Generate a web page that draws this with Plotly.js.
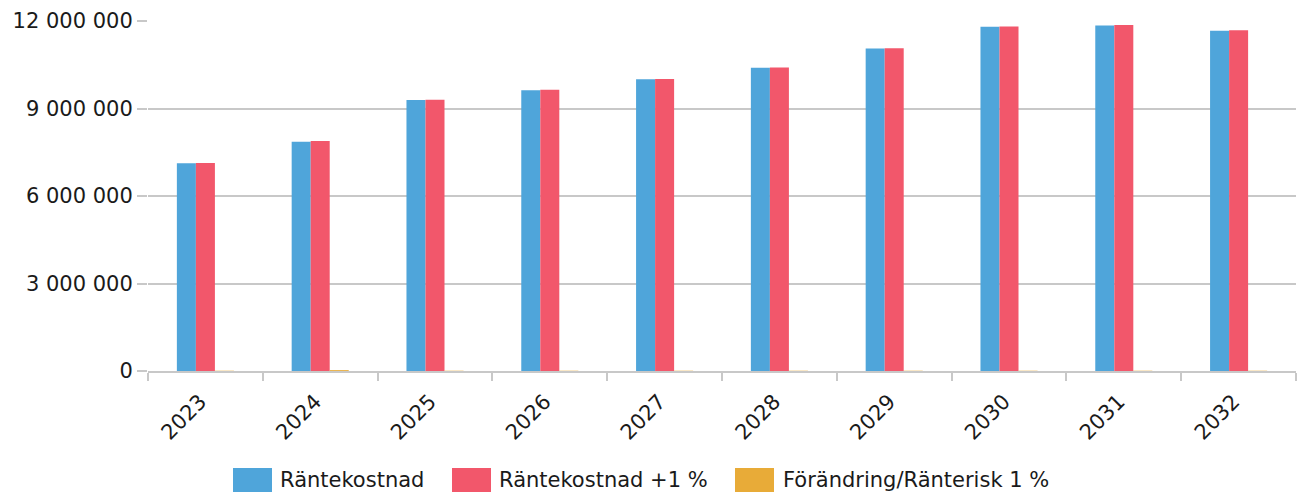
<!DOCTYPE html>
<html>
<head>
<meta charset="utf-8">
<script src="https://cdn.plot.ly/plotly-3.0.1.min.js"></script>
<style>html,body{margin:0;padding:0;background:#fff;}#chart{width:1299px;height:495px;}</style>
</head>
<body>
<div id="chart"></div>
<script>
const years = ['2023','2024','2025','2026','2027','2028','2029','2030','2031','2032'];
const rantekostnad = [7120000, 7860000, 9290000, 9630000, 10000000, 10400000, 11060000, 11800000, 11850000, 11670000];
const rantekostnadPlus1 = [7130000, 7890000, 9300000, 9640000, 10010000, 10410000, 11070000, 11810000, 11860000, 11680000];
const forandring = [10000, 30000, 10000, 10000, 10000, 10000, 10000, 10000, 10000, 10000];
const seriesNames = ['Räntekostnad', 'Räntekostnad +1 %', 'Förändring/Ränterisk 1 %'];
const seriesColors = ['#4fa5da', '#f2576b', '#e8ab38'];
const yTicks = [0, 3000000, 6000000, 9000000, 12000000];
const yTickLabels = ['0', '3 000 000', '6 000 000', '9 000 000', '12 000 000'];

// plot area geometry (pixels) used to place the custom legend
const plotL = 148, plotW = 1148, plotB = 371, plotH = 350;
const px2x = p => (p - plotL) / plotW;
const px2y = p => (plotB - p) / plotH;
const legendSwatchX = [233, 452, 735];
const legendTextX = [280, 499, 783];

const font = {family: 'DejaVu Sans, sans-serif', size: 21, color: '#1a1a1a'};
const seriesValues = [rantekostnad, rantekostnadPlus1, forandring];
const traces = seriesValues.map((vals, i) => ({
  type: 'bar', name: seriesNames[i], x: years, y: vals,
  marker: {color: seriesColors[i]}, showlegend: false
}));

const shapes = seriesNames.map((n, i) => ({
  type: 'rect', xref: 'paper', yref: 'paper',
  x0: px2x(legendSwatchX[i]), x1: px2x(legendSwatchX[i] + 39),
  y0: px2y(492), y1: px2y(468),
  fillcolor: seriesColors[i], line: {width: 0}
}));
const annotations = seriesNames.map((n, i) => ({
  text: n, xref: 'paper', yref: 'paper', showarrow: false,
  x: px2x(legendTextX[i] - 2), xanchor: 'left', y: px2y(480), yanchor: 'middle', font: font
}));

const layout = {
  width: 1299, height: 495,
  margin: {l: 148, r: 3, t: 21, b: 124},
  paper_bgcolor: '#ffffff', plot_bgcolor: '#ffffff',
  font: font,
  barmode: 'group', bargap: 0.503, bargroupgap: 0,
  showlegend: false,
  shapes: shapes, annotations: annotations,
  xaxis: {
    type: 'category', tickson: 'boundaries', ticks: 'outside', ticklen: 8, tickwidth: 2, tickcolor: '#c8c8c8',
    showline: true, linecolor: '#c8c8c8', linewidth: 2, showgrid: false, tickangle: -45, tickfont: font,
    ticklabelstandoff: 8, ticklabelshift: -5, automargin: false
  },
  yaxis: {
    range: [0, 12000000], tickvals: yTicks, ticktext: yTickLabels, ticks: 'outside', ticklen: 10, tickwidth: 2, tickcolor: '#c8c8c8',
    showgrid: true, gridcolor: '#c8c8c8', gridwidth: 2, zeroline: false, showline: false, tickfont: font, automargin: false
  }
};
Plotly.newPlot('chart', traces, layout, {staticPlot: true, displayModeBar: false});
</script>
</body>
</html>
